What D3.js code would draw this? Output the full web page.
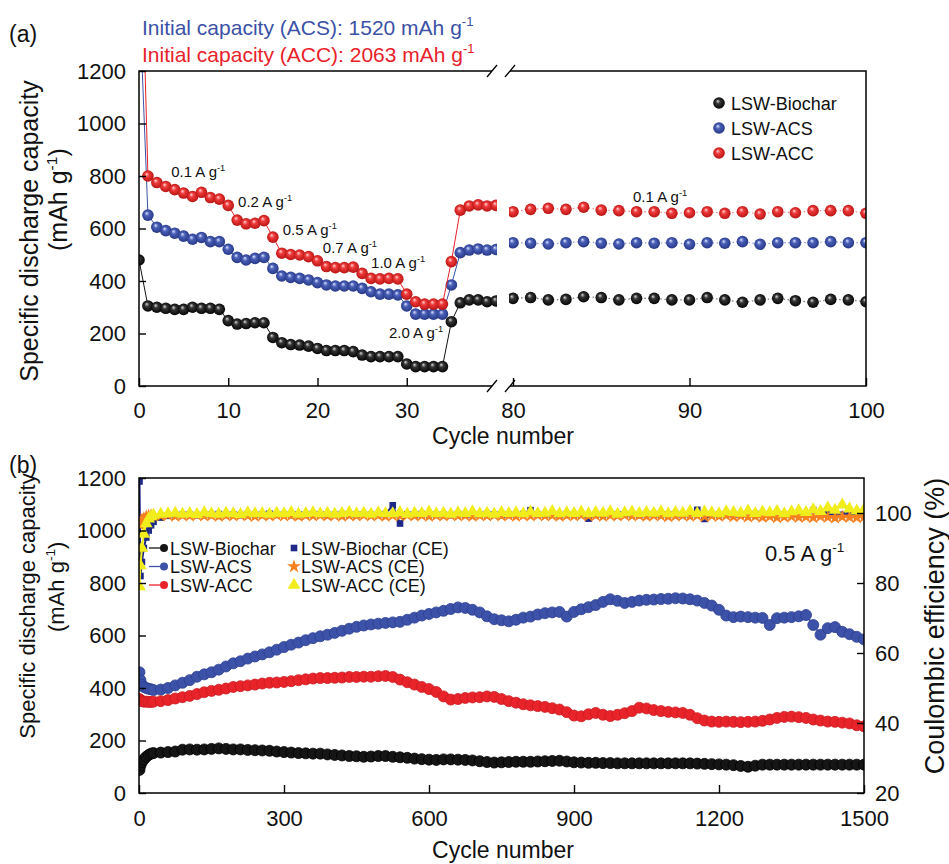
<!DOCTYPE html>
<html>
<head>
<meta charset="utf-8">
<script src="https://cdn.jsdelivr.net/npm/d3@7"></script>
<style>
  body { margin: 0; background: #fff; }
  svg { font-family: "Liberation Sans", Arial, sans-serif; }
</style>
</head>
<body>
<svg id="chart" width="949" height="864"></svg>
<script>
// ---------- panel (a): rate test ----------
const rateCyclesLeft = d3.range(0, 41);
const rateBiocharLeft = [480, 305, 300, 296, 292, 292, 300, 296, 296, 292, 249, 236, 238, 241, 241, 185, 165, 158, 156, 152, 143, 135, 135, 135, 131, 118, 112, 112, 112, 112, 84, 74, 74, 74, 74, 245, 317, 328, 328, 321, 324];
const rateACSLeft = [1520, 651, 605, 592, 582, 571, 559, 566, 550, 550, 521, 490, 480, 486, 490, 448, 419, 414, 410, 404, 394, 385, 381, 381, 381, 372, 359, 350, 350, 347, 305, 274, 274, 274, 274, 385, 508, 518, 522, 518, 520];
const rateACCLeft = [2063, 800, 775, 760, 748, 735, 722, 738, 718, 712, 688, 632, 618, 620, 630, 567, 506, 501, 499, 493, 477, 455, 451, 451, 453, 429, 410, 408, 410, 408, 350, 321, 312, 312, 312, 474, 670, 686, 690, 686, 688];

const rateCyclesRight = d3.range(80, 101);
const rateBiocharRight = [334, 337, 328, 330, 340, 337, 328, 334, 334, 328, 328, 337, 328, 319, 328, 334, 325, 319, 330, 328, 321];
const rateACSRight = [546, 544, 541, 546, 550, 544, 541, 546, 544, 546, 540, 546, 544, 550, 540, 546, 546, 546, 550, 546, 546];
const rateACCRight = [664, 673, 677, 673, 681, 670, 668, 664, 664, 658, 660, 664, 658, 664, 655, 664, 660, 668, 668, 668, 658];

// rate labels: [text, cycle, capacity]
const rateLabels = [["0.1", 3.6, 796], ["0.2", 11.1, 682], ["0.5", 16.1, 575], ["0.7", 20.6, 507], ["1.0", 26.0, 450], ["2.0", 28.0, 183]];
const rateLabelRight = ["0.1", 86.8, 701];

// ---------- panel (b): long cycling at 0.5 A/g ----------
const cyclesB = [1, 3, 6, 10, 15, 20, 25].concat(d3.range(30, 1501, 15));
const capBiochar = [88, 105, 118, 128, 138, 145, 150,
  152, 154, 156, 158, 165, 166, 165, 166, 168, 170,
  168, 166, 166, 164, 163, 162, 161, 158, 156, 154,
  152, 151, 150, 150, 147, 145, 143, 141, 140, 138,
  139, 141, 141, 138, 136, 134, 131, 129, 127, 126,
  128, 128, 127, 126, 124, 121, 118, 116, 117, 118,
  119, 119, 119, 120, 121, 122, 123, 120, 117, 116,
  115, 115, 114, 114, 113, 113, 113, 113, 113, 113,
  113, 113, 113, 113, 113, 112, 111, 110, 109, 108,
  106, 103, 100, 104, 108, 108, 108, 108, 108, 108,
  108, 108, 108, 108, 108, 108, 108, 108, 108];
const capACS = [460, 430, 412, 404, 400, 397, 395,
  392, 394, 400, 410, 420, 430, 443, 452, 460, 470,
  482, 494, 502, 512, 520, 528, 536, 546, 556, 565,
  573, 582, 590, 597, 603, 610, 618, 626, 633, 638,
  642, 645, 648, 650, 652, 660, 668, 676, 682, 688,
  694, 701, 707, 705, 698, 688, 673, 662, 658, 654,
  660, 668, 672, 680, 685, 688, 690, 672, 690, 700,
  708, 716, 728, 738, 732, 724, 728, 733, 736, 737,
  739, 740, 742, 741, 738, 733, 724, 714, 698, 676,
  670, 672, 670, 668, 667, 640, 666, 668, 670, 673,
  678, 640, 603, 628, 632, 614, 605, 595, 585];
const capACC = [358, 352, 350, 348, 348, 347, 347,
  348, 350, 354, 360, 365, 370, 377, 384, 389, 393,
  398, 404, 407, 410, 413, 417, 420, 421, 423, 426,
  430, 433, 436, 438, 438, 439, 440, 442, 442, 443,
  443, 445, 446, 442, 432, 422, 413, 404, 396, 385,
  368, 356, 358, 362, 364, 365, 368, 366, 358, 350,
  344, 338, 334, 331, 328, 323, 318, 308, 295, 292,
  300, 305, 298, 293, 298, 304, 312, 325, 322, 316,
  312, 309, 307, 305, 298, 285, 276, 272, 271, 272,
  271, 270, 271, 272, 275, 280, 286, 290, 291, 289,
  286, 280, 276, 272, 271, 268, 265, 258, 254];
const ceBiochar = [109, 82, 86, 90, 93, 95, 96.5,
  97.5, 98.7, 99.2, 99.4, 99.5, 99.6, 99.4, 99.6, 99.5, 99.7,
  99.5, 99.6, 99.4, 99.7, 99.5, 99.6, 99.8, 99.5, 99.6, 99.4,
  99.6, 99.5, 99.7, 99.6, 99.4, 99.5, 99.7, 99.6, 99.5, 99.6,
  99.5, 99.6, 99.7, 102.2, 97.0, 99.6, 99.5, 99.7, 99.6, 99.5,
  99.6, 99.4, 99.7, 99.5, 99.6, 99.5, 99.7, 99.6, 99.4, 99.6,
  99.5, 99.7, 100.8, 99.6, 99.5, 99.6, 99.4, 99.7, 99.5, 99.6,
  98.4, 99.6, 99.5, 99.7, 99.6, 99.5, 99.6, 99.4, 99.7, 99.6,
  99.5, 99.6, 99.7, 99.5, 99.6, 100.9, 98.3, 99.6, 99.5, 99.7,
  99.6, 99.5, 99.6, 99.7, 99.5, 99.6, 99.4, 99.6, 99.7, 99.5,
  99.6, 100.8, 99.5, 99.7, 99.6, 99.5, 99.8, 99.6, 99.7];
const ceACS = [97, 96.5, 98, 98.5, 99, 99.2, 99.3,
  99.3, 99.2, 99.4, 99.1, 99.3, 99.2, 99.4, 99.2, 99.3, 99.1,
  99.3, 99.2, 99.4, 99.2, 99.1, 99.3, 99.2, 99.4, 99.2, 99.3,
  99.1, 99.3, 99.2, 99.4, 99.2, 99.3, 99.1, 99.3, 99.2, 99.4,
  99.2, 99.3, 99.1, 99.3, 99.2, 99.4, 99.2, 99.3, 99.1, 99.3,
  99.2, 99.4, 99.2, 99.3, 99.1, 99.3, 99.2, 99.4, 99.2, 99.3,
  99.1, 99.3, 99.2, 99.4, 99.2, 99.3, 99.1, 99.3, 99.2, 99.4,
  99.2, 99.3, 99.1, 99.3, 99.2, 99.4, 99.2, 99.3, 99.1, 99.3,
  99.2, 99.0, 99.2, 99.3, 99.1, 99.3, 99.0, 99.2, 99.1, 99.3,
  99.0, 99.2, 98.9, 99.1, 98.8, 99.0, 98.7, 98.9, 99.0, 98.8,
  98.9, 98.7, 99.0, 98.8, 98.6, 98.9, 98.8, 98.7, 98.9];
const ceACC = [79, 85, 90, 94, 97, 98.3, 99,
  99.4, 99.7, 99.8, 100.0, 99.7, 99.9, 99.6, 100.1, 99.8, 99.7,
  100.0, 99.8, 99.6, 100.1, 99.8, 99.9, 99.7, 100.0, 99.8, 100.2,
  99.7, 99.9, 100.1, 99.8, 100.0, 99.7, 99.9, 100.2, 99.8, 100.0,
  99.7, 100.1, 99.9, 99.8, 100.2, 99.7, 100.0, 99.9, 100.3, 99.8,
  100.0, 99.7, 100.1, 99.9, 100.4, 99.8, 100.0, 99.7, 100.2, 99.9,
  100.1, 99.8, 100.3, 99.9, 100.0, 100.5, 99.8, 100.1, 99.9, 100.3,
  99.8, 100.2, 100.0, 100.4, 99.7, 100.1, 100.3, 99.9, 100.2, 100.0,
  100.4, 99.8, 100.2, 100.0, 100.5, 99.9, 100.3, 100.1, 99.8, 100.4,
  100.2, 100.0, 100.6, 99.9, 100.3, 100.1, 100.5, 99.8, 100.4, 100.7,
  100.2, 101.0, 100.5, 101.5, 100.8, 102.3, 101.2, 100.6, 101.0];

const seriesNames = ["LSW-Biochar", "LSW-ACS", "LSW-ACC"];
const ceNames = ["LSW-Biochar (CE)", "LSW-ACS (CE)", "LSW-ACC (CE)"];
const colors = { black: "#111111", blue: "#3b51a6", red: "#e8222a", navy: "#1e2886", orange: "#f7801f", yellow: "#f1ec1c" };

const svg = d3.select("#chart");
const defs = svg.append("defs");

// sphere gradients for the rate markers
function sphere(id, hi, mid, edge) {
  const g = defs.append("radialGradient").attr("id", id)
    .attr("cx", "50%").attr("cy", "50%").attr("r", "55%").attr("fx", "38%").attr("fy", "32%");
  g.append("stop").attr("offset", "0%").attr("stop-color", hi);
  g.append("stop").attr("offset", "35%").attr("stop-color", mid);
  g.append("stop").attr("offset", "100%").attr("stop-color", edge);
}
sphere("gBlack", "#d8d8d8", "#333", "#000");
sphere("gBlue", "#dfe5ff", "#4a60b8", "#233380");
sphere("gRed", "#ffd6d6", "#ee3a3a", "#b3100f");

function supText(g, x, y, base, sup, size, color, tail) {
  const t = g.append("text").attr("x", x).attr("y", y).attr("font-size", size).attr("fill", color);
  t.append("tspan").text(base);
  t.append("tspan").attr("dy", -size * 0.42).attr("font-size", size * 0.62).text(sup);
  if (tail) t.append("tspan").attr("dy", size * 0.42).text(tail);
  return t;
}

// ============ panel (a) ============
const xa1 = d3.scaleLinear().domain([0, 40]).range([139, 496]);
const xa2 = d3.scaleLinear().domain([80, 100]).range([513, 866]);
const ya = d3.scaleLinear().domain([0, 1200]).range([386, 71]);

defs.append("clipPath").attr("id", "clipA1").append("rect").attr("x", 139).attr("y", 71).attr("width", 358).attr("height", 315);
defs.append("clipPath").attr("id", "clipA2").append("rect").attr("x", 509).attr("y", 71).attr("width", 357).attr("height", 315);

const gA = svg.append("g");
const rateSets = [
  { left: rateBiocharLeft, right: rateBiocharRight, col: colors.black, grad: "gBlack", dot: "#777" },
  { left: rateACSLeft, right: rateACSRight, col: colors.blue, grad: "gBlue", dot: "#8a9ad8" },
  { left: rateACCLeft, right: rateACCRight, col: colors.red, grad: "gRed", dot: "#f08a8a" }
];

rateSets.forEach(s => {
  const l1 = gA.append("g").attr("clip-path", "url(#clipA1)");
  l1.append("path")
    .datum(rateCyclesLeft.map((c, i) => [c, s.left[i]]))
    .attr("fill", "none").attr("stroke", s.col).attr("stroke-width", 1)
    .attr("d", d3.line().x(d => xa1(d[0])).y(d => ya(d[1])));
  l1.selectAll("circle").data(rateCyclesLeft).join("circle")
    .attr("cx", c => xa1(c)).attr("cy", (c, i) => ya(s.left[i])).attr("r", 5.8)
    .attr("fill", `url(#${s.grad})`);

  const l2 = gA.append("g").attr("clip-path", "url(#clipA2)");
  l2.append("path")
    .datum(rateCyclesRight.map((c, i) => [c, s.right[i]]))
    .attr("fill", "none").attr("stroke", s.dot).attr("stroke-width", 1.2).attr("stroke-dasharray", "1.5,2.5")
    .attr("d", d3.line().x(d => xa2(d[0])).y(d => ya(d[1])));
  l2.selectAll("circle").data(rateCyclesRight).join("circle")
    .attr("cx", c => xa2(c)).attr("cy", (c, i) => ya(s.right[i])).attr("r", 5.8)
    .attr("fill", `url(#${s.grad})`);
});

// frame with axis break
const frameA = gA.append("g").attr("stroke", "#000").attr("stroke-width", 1.5).attr("fill", "none");
frameA.append("path").attr("d", `M492,71H139V386H492 M510,386H866V71H510`);
[492, 510].forEach(x => {
  [71, 386].forEach(y => {
    frameA.append("line").attr("x1", x - 5).attr("y1", y + 6).attr("x2", x + 5).attr("y2", y - 6).attr("stroke-width", 1.3);
  });
});

function styleAxis(g, size) {
  g.select(".domain").remove();
  g.selectAll(".tick line").attr("stroke", "#000").attr("stroke-width", 1.4);
  g.selectAll(".tick text").attr("font-size", size).attr("fill", "#111")
    .attr("font-family", "'Liberation Sans', Arial, sans-serif");
}
const fmt = d3.format("d");

gA.append("g").attr("transform", "translate(139,0)")
  .call(d3.axisLeft(ya).tickValues(d3.range(0, 1201, 200)).tickFormat(fmt).tickSize(-7).tickPadding(13))
  .call(g => styleAxis(g, 22));
gA.append("g").attr("transform", "translate(0,386)")
  .call(d3.axisBottom(xa1).tickValues([0, 10, 20, 30]).tickFormat(fmt).tickSize(-8).tickPadding(16))
  .call(g => styleAxis(g, 22));
gA.append("g").attr("transform", "translate(0,386)")
  .call(d3.axisBottom(xa2).tickValues([80, 90, 100]).tickFormat(fmt).tickSize(-8).tickPadding(16))
  .call(g => styleAxis(g, 22));

// rate labels
rateLabels.forEach(r => supText(gA, xa1(r[1]), ya(r[2]), r[0] + " A g", "-1", 15, "#111"));
supText(gA, xa2(rateLabelRight[1]), ya(rateLabelRight[2]), rateLabelRight[0] + " A g", "-1", 15, "#111");

// legend (a)
const legA = gA.append("g");
rateSets.forEach((s, i) => {
  const y = 103 + i * 25;
  legA.append("circle").attr("cx", 719).attr("cy", y).attr("r", 5.8).attr("fill", `url(#${s.grad})`);
  legA.append("text").attr("x", 731).attr("y", y + 6.5).attr("font-size", 18).attr("fill", "#111").text(seriesNames[i]);
});

// titles (a)
supText(svg, 142, 35, "Initial capacity (ACS): 1520 mAh g", "-1", 21, colors.blue);
supText(svg, 142, 62, "Initial capacity (ACC): 2063 mAh g", "-1", 21, colors.red);
svg.append("text").attr("x", 9).attr("y", 42).attr("font-size", 23).attr("fill", "#111").text("(a)");
svg.append("text").attr("x", 503).attr("y", 444).attr("font-size", 23).attr("fill", "#111")
  .attr("text-anchor", "middle").text("Cycle number");
svg.append("text").attr("transform", "translate(38,231) rotate(-90)").attr("font-size", 25)
  .attr("text-anchor", "middle").attr("fill", "#111").text("Specific discharge capacity");
supText(svg.append("g").attr("transform", "translate(67,203) rotate(-90)"), -48, 0, "(mAh g", "-1", 25, "#111", ")");

// ============ panel (b) ============
const xb = d3.scaleLinear().domain([0, 1500]).range([139, 864]);
const yb = d3.scaleLinear().domain([0, 1200]).range([793, 478]);
const yce = d3.scaleLinear().domain([20, 110]).range([793, 478]);

defs.append("clipPath").attr("id", "clipB").append("rect").attr("x", 139).attr("y", 478).attr("width", 725).attr("height", 315);
const gB = svg.append("g");
const plotB = gB.append("g").attr("clip-path", "url(#clipB)");

const capSets = [
  { vals: capBiochar, fill: "#151515", stroke: "#000" },
  { vals: capACS, fill: "#3c52a8", stroke: "#2c3f92" },
  { vals: capACC, fill: "#e8232a", stroke: "#cc1a20" }
];
capSets.forEach(s => {
  plotB.append("path")
    .datum(cyclesB.map((c, i) => [c, s.vals[i]]))
    .attr("fill", "none").attr("stroke", s.fill).attr("stroke-width", 1.5)
    .attr("d", d3.line().x(d => xb(d[0])).y(d => yb(d[1])));
  plotB.append("g").selectAll("circle").data(cyclesB).join("circle")
    .attr("cx", c => xb(c)).attr("cy", (c, i) => yb(s.vals[i])).attr("r", 5.5)
    .attr("fill", s.fill).attr("stroke", s.stroke).attr("stroke-width", 0.8);
});

const ceSets = [
  { vals: ceBiochar, col: colors.navy, sym: d3.symbolSquare, size: 44 },
  { vals: ceACS, col: colors.orange, sym: d3.symbolStar, size: 60 },
  { vals: ceACC, col: colors.yellow, sym: d3.symbolTriangle, size: 70 }
];
ceSets.forEach(s => {
  plotB.append("path")
    .datum(cyclesB.map((c, i) => [c, s.vals[i]]))
    .attr("fill", "none").attr("stroke", s.col).attr("stroke-width", 2)
    .attr("d", d3.line().x(d => xb(d[0])).y(d => yce(d[1])));
  plotB.append("g").selectAll("path").data(cyclesB).join("path")
    .attr("transform", (c, i) => `translate(${xb(c)},${yce(s.vals[i])})`)
    .attr("d", d3.symbol(s.sym, s.size)).attr("fill", s.col);
});

gB.append("rect").attr("x", 139).attr("y", 478).attr("width", 725).attr("height", 315)
  .attr("fill", "none").attr("stroke", "#000").attr("stroke-width", 1.5);
gB.append("g").attr("transform", "translate(139,0)")
  .call(d3.axisLeft(yb).tickValues(d3.range(0, 1201, 200)).tickFormat(fmt).tickSize(-7).tickPadding(13))
  .call(g => styleAxis(g, 22));
gB.append("g").attr("transform", "translate(864,0)")
  .call(d3.axisRight(yce).tickValues([20, 40, 60, 80, 100]).tickFormat(fmt).tickSize(-7).tickPadding(11))
  .call(g => styleAxis(g, 22));
gB.append("g").attr("transform", "translate(0,793)")
  .call(d3.axisBottom(xb).tickValues(d3.range(0, 1501, 300)).tickFormat(fmt).tickSize(-8).tickPadding(17))
  .call(g => styleAxis(g, 22));

// legend (b)
const legB = gB.append("g");
capSets.forEach((s, i) => {
  const y = 548 + i * 18.5;
  legB.append("line").attr("x1", 149).attr("x2", 162).attr("y1", y).attr("y2", y).attr("stroke", s.fill).attr("stroke-width", 1.3);
  legB.append("circle").attr("cx", 164).attr("cy", y).attr("r", 4).attr("fill", s.fill);
  legB.append("text").attr("x", 170).attr("y", y + 6.5).attr("font-size", 18).attr("fill", "#111").text(seriesNames[i]);
});
ceSets.forEach((s, i) => {
  const y = 548 + i * 18.5;
  legB.append("path").attr("transform", `translate(294,${y})`).attr("d", d3.symbol(s.sym, s.size)).attr("fill", s.col);
  legB.append("text").attr("x", 301).attr("y", y + 6.5).attr("font-size", 18).attr("fill", "#111").text(ceNames[i]);
});

supText(gB, xb(1295), yb(884), "0.5 A g", "-1", 22, "#111");

svg.append("text").attr("x", 9).attr("y", 473).attr("font-size", 23).attr("fill", "#111").text("(b)");
svg.append("text").attr("x", 503).attr("y", 858).attr("font-size", 23).attr("fill", "#111")
  .attr("text-anchor", "middle").text("Cycle number");
svg.append("text").attr("transform", "translate(35,606) rotate(-90)").attr("font-size", 22)
  .attr("text-anchor", "middle").attr("fill", "#111").text("Specific discharge capacity");
supText(svg.append("g").attr("transform", "translate(64,590) rotate(-90)"), -42, 0, "(mAh g", "-1", 22, "#111", ")");
svg.append("text").attr("transform", "translate(944,626) rotate(-90)").attr("font-size", 27)
  .attr("text-anchor", "middle").attr("fill", "#111").text("Coulombic efficiency (%)");
</script>
</body>
</html>
